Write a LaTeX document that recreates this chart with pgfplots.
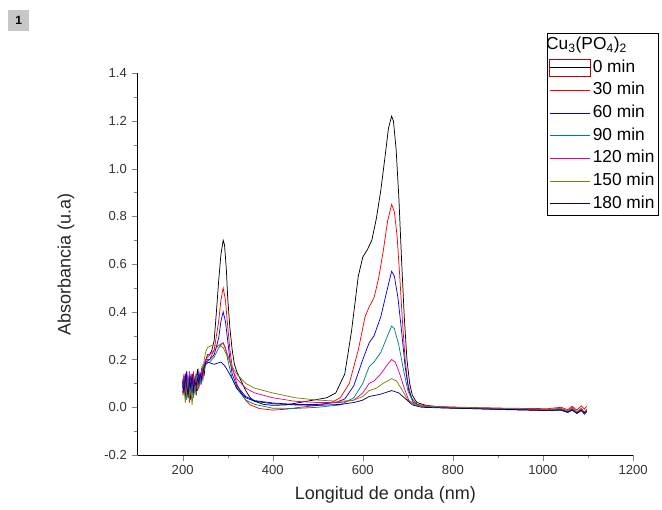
\documentclass[border=0pt]{standalone}
\usepackage{pgfplots}
\pgfplotsset{compat=1.18}
\usepackage{fontspec}
\setmainfont{Liberation Sans}
\definecolor{oteal}{RGB}{0,128,128}
\definecolor{oolive}{RGB}{128,128,0}
\definecolor{onavy}{RGB}{0,0,128}
\begin{document}
\begin{tikzpicture}
\useasboundingbox (-103.2pt,-41.25pt) rectangle (393.3pt,341.25pt);
% grey panel number
\node[fill=black!22, minimum size=15.75pt, inner sep=0pt, font=\bfseries\small] at (-89.1pt,325.7pt) {1};
\begin{axis}[
    scale only axis,
    width=371.6pt, height=286.3pt,
    xmin=100, xmax=1200, ymin=-0.2, ymax=1.4,
    axis x line*=bottom, axis y line*=left,
    tick align=outside,
    major tick length=4.5pt, minor tick length=2.5pt,
    xtick={200,400,...,1200},
    minor xtick={300,500,...,1100},
    ytick={-0.2,0,0.2,0.4,0.6,0.8,1.0,1.2,1.4},
    minor ytick={-0.1,0.1,0.3,0.5,0.7,0.9,1.1,1.3},
    xticklabel style={/pgf/number format/1000 sep={}},
    yticklabel style={/pgf/number format/.cd, fixed, fixed zerofill, precision=1},
    /pgf/number format/assume math mode=true,
    tick label style={font=\fontsize{9.8}{12}\selectfont, text=black!80},
    xlabel={Longitud de onda (nm)},
    ylabel={Absorbancia (u.a)},
    label style={font=\fontsize{13.5}{15}\selectfont, text=black!85},
    xlabel style={at={(axis description cs:0.5,-0.105)}, anchor=center},
    ylabel style={at={(axis description cs:-0.118,0.5)}, anchor=south},
    every axis plot/.append style={line width=0.55pt},
    legend style={at={(0.8264,1.1048)}, anchor=north west,
        font=\fontsize{13}{15}\selectfont, inner sep=1pt, row sep=1.5pt,
        nodes={inner sep=1.5pt, text height=9.5pt, text depth=3pt},
        cells={anchor=west}},
    legend cell align=left,
    legend image code/.code={\draw[#1] (0pt,0pt) -- (30pt,0pt);},
    clip=false,
]
\addlegendimage{empty legend}
\addlegendentry{\hspace{-35pt}Cu\textsubscript{3}(PO\textsubscript{4})\textsubscript{2}}

% 0 min
\addplot[draw=black, legend image code/.code={\draw[red!75!black,line width=0.6pt] (-1pt,-6.5pt) rectangle (30pt,6.5pt); \draw[black, line width=0.6pt] (0pt,0pt) -- (30pt,0pt);}] coordinates {
(200,0.08)(203,0.13)(206,0.04)(209,0.15)(212,0.06)(215,0.11)(218,0.03)(221,0.14)(224,0.08)(227,0.12)(230,0.05)(233,0.16)(236,0.09)(239,0.13)(242,0.11)(245,0.17)(248,0.14)(251,0.19)
(255,0.22)(260,0.22)(265,0.24)(270,0.28)(275,0.40)(280,0.53)(285,0.64)(290,0.70)(293,0.68)(297,0.58)(300,0.46)(305,0.33)(310,0.24)(315,0.18)(320,0.15)(330,0.11)(340,0.07)(350,0.04)(360,0.025)(380,0.012)(400,0.008)(430,0.01)(460,0.02)(490,0.03)(520,0.04)(540,0.06)(560,0.14)(575,0.32)(590,0.55)(600,0.63)(610,0.66)(620,0.70)(630,0.79)(640,0.91)(650,1.06)(657,1.17)(664,1.22)(668,1.20)(674,1.08)(680,0.88)(686,0.62)(692,0.38)(698,0.20)(704,0.10)(710,0.05)(720,0.02)(740,0.008)(780,0.0)(820,-0.003)(870,-0.006)(920,-0.009)(970,-0.011)(1010,-0.013)(1040,-0.01)(1055,-0.02)(1065,-0.008)(1075,-0.024)(1085,-0.01)(1092,-0.026)(1097,-0.014)
};
\addlegendentry{0 min}

% 30 min
\addplot[draw=red] coordinates {
(200,0.10)(203,0.05)(206,0.14)(209,0.07)(212,0.12)(215,0.02)(218,0.11)(221,0.09)(224,0.15)(227,0.06)(230,0.13)(233,0.08)(236,0.12)(239,0.10)(242,0.16)(245,0.12)(248,0.18)(251,0.20)
(260,0.20)(270,0.24)(280,0.36)(285,0.45)(290,0.50)(295,0.45)(300,0.34)(305,0.24)(310,0.17)(320,0.10)(330,0.06)(340,0.03)(350,0.01)(370,-0.005)(400,-0.012)(430,-0.008)(460,0.0)(500,0.008)(530,0.02)(550,0.04)(570,0.10)(590,0.24)(605,0.38)(614,0.42)(625,0.46)(635,0.54)(645,0.65)(655,0.78)(664,0.85)(670,0.82)(676,0.72)(682,0.55)(688,0.36)(694,0.20)(700,0.10)(708,0.04)(720,0.012)(760,0.003)(820,0.0)(870,-0.002)(920,-0.004)(970,-0.005)(1010,-0.006)(1040,0.0)(1055,-0.01)(1065,0.004)(1075,-0.012)(1085,0.006)(1092,-0.008)(1097,0.004)
};
\addlegendentry{30 min}

% 60 min
\addplot[draw=blue] coordinates {
(200,0.06)(203,0.12)(206,0.08)(209,0.15)(212,0.04)(215,0.10)(218,0.13)(221,0.05)(224,0.11)(227,0.09)(230,0.14)(233,0.07)(236,0.15)(239,0.11)(242,0.13)(245,0.15)(248,0.17)(251,0.19)
(260,0.20)(270,0.22)(280,0.29)(285,0.36)(290,0.40)(295,0.36)(300,0.28)(305,0.20)(310,0.14)(320,0.09)(340,0.045)(360,0.028)(400,0.018)(450,0.012)(500,0.012)(540,0.02)(560,0.035)(580,0.09)(600,0.20)(614,0.27)(625,0.30)(640,0.38)(655,0.50)(664,0.57)(670,0.55)(678,0.46)(686,0.32)(694,0.17)(702,0.07)(712,0.02)(730,0.005)(780,-0.002)(850,-0.006)(920,-0.01)(970,-0.012)(1010,-0.014)(1040,-0.012)(1055,-0.022)(1065,-0.01)(1075,-0.026)(1085,-0.014)(1092,-0.028)(1097,-0.018)
};
\addlegendentry{60 min}

% 90 min
\addplot[draw=oteal] coordinates {
(200,0.12)(203,0.07)(206,0.10)(209,0.03)(212,0.13)(215,0.08)(218,0.06)(221,0.12)(224,0.04)(227,0.10)(230,0.08)(233,0.13)(236,0.09)(239,0.12)(242,0.10)(245,0.14)(248,0.16)(251,0.18)
(260,0.19)(270,0.21)(280,0.25)(290,0.27)(295,0.25)(300,0.20)(310,0.12)(320,0.08)(340,0.03)(360,0.012)(400,-0.004)(450,-0.005)(500,0.0)(550,0.01)(580,0.04)(600,0.10)(614,0.17)(625,0.19)(640,0.23)(655,0.30)(664,0.34)(670,0.33)(680,0.26)(690,0.16)(700,0.07)(712,0.02)(730,0.004)(780,-0.002)(850,-0.005)(920,-0.008)(970,-0.01)(1010,-0.012)(1040,-0.008)(1055,-0.016)(1065,-0.006)(1075,-0.02)(1085,-0.008)(1092,-0.022)(1097,-0.01)
};
\addlegendentry{90 min}

% 120 min
\addplot[draw=magenta] coordinates {
(200,0.09)(203,0.14)(206,0.06)(209,0.11)(212,0.08)(215,0.15)(218,0.07)(221,0.10)(224,0.12)(227,0.06)(230,0.14)(233,0.10)(236,0.08)(239,0.13)(242,0.15)(245,0.12)(248,0.18)(251,0.20)
(260,0.22)(270,0.24)(280,0.26)(290,0.27)(300,0.22)(310,0.16)(320,0.12)(340,0.08)(360,0.06)(400,0.04)(450,0.025)(500,0.02)(550,0.02)(580,0.03)(600,0.06)(614,0.10)(625,0.11)(640,0.14)(655,0.18)(664,0.20)(672,0.19)(682,0.14)(692,0.08)(702,0.03)(715,0.01)(740,0.004)(800,0.0)(870,-0.004)(920,-0.006)(970,-0.008)(1010,-0.01)(1040,-0.004)(1055,-0.018)(1065,0.0)(1075,-0.024)(1085,-0.004)(1092,-0.03)(1097,-0.008)
};
\addlegendentry{120 min}

% 150 min
\addplot[draw=oolive] coordinates {
(200,0.05)(203,0.09)(206,0.02)(209,0.07)(212,0.11)(215,0.04)(218,0.08)(221,0.01)(224,0.09)(227,0.06)(230,0.12)(233,0.08)(236,0.10)(239,0.14)(242,0.12)(245,0.16)(248,0.20)(251,0.23)
(255,0.25)(265,0.26)(280,0.26)(290,0.25)(300,0.21)(310,0.17)(320,0.14)(340,0.10)(360,0.08)(400,0.06)(450,0.04)(500,0.03)(550,0.025)(580,0.03)(600,0.045)(614,0.07)(630,0.08)(645,0.10)(664,0.12)(675,0.11)(688,0.07)(700,0.03)(715,0.01)(740,0.004)(800,0.0)(870,-0.003)(920,-0.005)(970,-0.007)(1010,-0.009)(1040,-0.006)(1055,-0.014)(1065,-0.004)(1075,-0.018)(1085,-0.006)(1092,-0.02)(1097,-0.01)
};
\addlegendentry{150 min}

% 180 min
\addplot[draw=onavy] coordinates {
(200,0.11)(203,0.06)(206,0.13)(209,0.09)(212,0.05)(215,0.12)(218,0.08)(221,0.14)(224,0.07)(227,0.11)(230,0.09)(233,0.12)(236,0.10)(239,0.14)(242,0.12)(245,0.15)(248,0.17)(251,0.18)
(255,0.19)(270,0.18)(285,0.19)(295,0.17)(310,0.12)(320,0.08)(340,0.04)(360,0.025)(400,0.015)(450,0.01)(500,0.008)(550,0.012)(580,0.02)(600,0.03)(614,0.045)(640,0.055)(664,0.07)(680,0.06)(695,0.035)(710,0.01)(730,0.0)(780,-0.003)(850,-0.006)(920,-0.009)(970,-0.011)(1010,-0.013)(1040,-0.011)(1055,-0.02)(1065,-0.012)(1075,-0.025)(1085,-0.012)(1092,-0.024)(1097,-0.016)
};
\addlegendentry{180 min}
\end{axis}
\end{tikzpicture}
\end{document}
